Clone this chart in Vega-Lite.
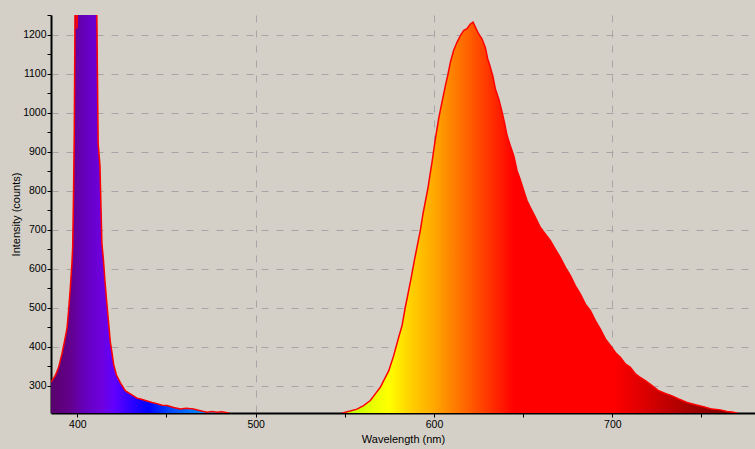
{
  "$schema": "https://vega.github.io/schema/vega-lite/v6.json",
  "width": 704,
  "height": 398,
  "autosize": {"type": "none"},
  "padding": {"left": 51, "top": 15, "right": 0, "bottom": 36},
  "background": "#d4d0c8",
  "config": {
    "view": {"stroke": null, "fill": "#d4d0c8"},
    "font": "Liberation Sans",
    "axis": {
      "domainColor": "#000000",
      "domainWidth": 2,
      "tickColor": "#000000",
      "tickWidth": 1,
      "tickSize": 4,
      "labelColor": "#000000",
      "titleColor": "#000000",
      "labelFont": "Liberation Sans",
      "titleFont": "Liberation Sans",
      "labelFontSize": 10.5,
      "titleFontSize": 11,
      "titleFontWeight": "normal",
      "gridColor": "#a6a6a6",
      "gridDash": [7, 8],
      "gridWidth": 1,
      "zindex": 1
    }
  },
  "data": {
    "values": [
      {"wl": 384, "v": 305}, {"wl": 385.8, "v": 313}, {"wl": 387.7, "v": 326}, {"wl": 389.5, "v": 347},
      {"wl": 391.4, "v": 382}, {"wl": 392.7, "v": 411}, {"wl": 394.2, "v": 446}, {"wl": 395.1, "v": 492},
      {"wl": 396.1, "v": 552}, {"wl": 397.0, "v": 616}, {"wl": 397.4, "v": 655}, {"wl": 397.9, "v": 800},
      {"wl": 398.3, "v": 950}, {"wl": 398.9, "v": 1400}, {"wl": 399.8, "v": 1215}, {"wl": 400.8, "v": 1400},
      {"wl": 405.0, "v": 1400}, {"wl": 410.5, "v": 1400}, {"wl": 411.0, "v": 1230}, {"wl": 411.3, "v": 1090},
      {"wl": 411.7, "v": 920}, {"wl": 412.7, "v": 864}, {"wl": 413.3, "v": 754}, {"wl": 413.8, "v": 664},
      {"wl": 414.6, "v": 626}, {"wl": 415.5, "v": 569}, {"wl": 416.5, "v": 514}, {"wl": 417.6, "v": 459},
      {"wl": 418.5, "v": 413}, {"wl": 419.5, "v": 383}, {"wl": 420.4, "v": 354}, {"wl": 421.9, "v": 328},
      {"wl": 424.1, "v": 308}, {"wl": 426.9, "v": 287}, {"wl": 429.7, "v": 279}, {"wl": 433.5, "v": 268},
      {"wl": 436.0, "v": 265}, {"wl": 439.1, "v": 261}, {"wl": 442.0, "v": 257}, {"wl": 444.7, "v": 254},
      {"wl": 447.5, "v": 250}, {"wl": 450.3, "v": 249}, {"wl": 454.0, "v": 244}, {"wl": 457.8, "v": 240},
      {"wl": 461.0, "v": 242}, {"wl": 465.2, "v": 240}, {"wl": 469.0, "v": 236}, {"wl": 472.7, "v": 232},
      {"wl": 475.5, "v": 234}, {"wl": 478.3, "v": 232}, {"wl": 481.0, "v": 233}, {"wl": 484.0, "v": 231},
      {"wl": 487.0, "v": 226}, {"wl": 495.0, "v": 220}, {"wl": 510.0, "v": 218}, {"wl": 530.0, "v": 219},
      {"wl": 545.0, "v": 224}, {"wl": 548.0, "v": 228}, {"wl": 550.3, "v": 232}, {"wl": 553.0, "v": 235},
      {"wl": 556.8, "v": 240}, {"wl": 560.5, "v": 249}, {"wl": 564.3, "v": 262}, {"wl": 567.1, "v": 279},
      {"wl": 569.9, "v": 296}, {"wl": 571.8, "v": 313}, {"wl": 574.6, "v": 338}, {"wl": 577.4, "v": 377},
      {"wl": 580.2, "v": 424}, {"wl": 582.1, "v": 454}, {"wl": 583.9, "v": 501}, {"wl": 585.8, "v": 544},
      {"wl": 587.1, "v": 574}, {"wl": 589.0, "v": 621}, {"wl": 590.8, "v": 663}, {"wl": 592.3, "v": 697},
      {"wl": 593.9, "v": 742}, {"wl": 596.5, "v": 804}, {"wl": 598.9, "v": 873}, {"wl": 600.8, "v": 933},
      {"wl": 602.6, "v": 984}, {"wl": 604.5, "v": 1027}, {"wl": 606.4, "v": 1069}, {"wl": 607.7, "v": 1095},
      {"wl": 609.2, "v": 1129}, {"wl": 611.0, "v": 1159}, {"wl": 612.9, "v": 1180}, {"wl": 614.8, "v": 1197},
      {"wl": 616.6, "v": 1210}, {"wl": 618.5, "v": 1215}, {"wl": 620.4, "v": 1227}, {"wl": 621.9, "v": 1232},
      {"wl": 623.2, "v": 1219}, {"wl": 625.0, "v": 1202}, {"wl": 626.9, "v": 1189}, {"wl": 628.8, "v": 1167},
      {"wl": 630.1, "v": 1138}, {"wl": 631.6, "v": 1116}, {"wl": 633.1, "v": 1091}, {"wl": 634.4, "v": 1061},
      {"wl": 636.3, "v": 1035}, {"wl": 638.2, "v": 1001}, {"wl": 639.5, "v": 975}, {"wl": 641.0, "v": 941},
      {"wl": 642.8, "v": 915}, {"wl": 644.7, "v": 890}, {"wl": 646.6, "v": 851}, {"wl": 648.4, "v": 828},
      {"wl": 650.3, "v": 800}, {"wl": 652.2, "v": 774}, {"wl": 654.0, "v": 757}, {"wl": 656.8, "v": 732},
      {"wl": 659.6, "v": 706}, {"wl": 662.4, "v": 689}, {"wl": 665.2, "v": 672}, {"wl": 668.0, "v": 650},
      {"wl": 670.8, "v": 629}, {"wl": 673.7, "v": 603}, {"wl": 676.5, "v": 582}, {"wl": 679.3, "v": 556},
      {"wl": 682.1, "v": 535}, {"wl": 684.9, "v": 509}, {"wl": 687.7, "v": 492}, {"wl": 690.5, "v": 467},
      {"wl": 693.3, "v": 445}, {"wl": 696.1, "v": 420}, {"wl": 698.9, "v": 403}, {"wl": 701.7, "v": 385},
      {"wl": 704.5, "v": 373}, {"wl": 707.3, "v": 356}, {"wl": 710.1, "v": 347}, {"wl": 713.0, "v": 330},
      {"wl": 715.7, "v": 321}, {"wl": 718.5, "v": 313}, {"wl": 722.3, "v": 300}, {"wl": 726.0, "v": 287},
      {"wl": 729.7, "v": 280}, {"wl": 733.5, "v": 274}, {"wl": 737.2, "v": 266}, {"wl": 741.9, "v": 257},
      {"wl": 746.6, "v": 251}, {"wl": 751.2, "v": 246}, {"wl": 755.9, "v": 240}, {"wl": 760.6, "v": 238},
      {"wl": 764.3, "v": 234}, {"wl": 768.0, "v": 232}, {"wl": 771.0, "v": 228}, {"wl": 782.0, "v": 220}
    ]
  },
  "encoding": {
    "x": {
      "field": "wl",
      "type": "quantitative",
      "scale": {"domain": [385.25, 780], "nice": false, "zero": false},
      "axis": {
        "title": "Wavelength (nm)",
        "format": "d",
        "values": [400, 450, 500, 550, 600, 650, 700, 750],
        "labelExpr": "datum.value % 100 == 0 ? datum.label : ''",
        "labelPadding": 2,
        "titlePadding": 4,
        "gridOpacity": {"condition": {"test": "datum.value % 100 != 0", "value": 0}, "value": 1}
      }
    },
    "y": {
      "field": "v",
      "type": "quantitative",
      "scale": {"domain": [230, 1250], "nice": false, "zero": false},
      "axis": {
        "title": "Intensity (counts)",
        "format": "d",
        "values": [300, 350, 400, 450, 500, 550, 600, 650, 700, 750, 800, 850, 900, 950, 1000, 1050, 1100, 1150, 1200, 1250],
        "labelExpr": "datum.value % 100 == 0 ? datum.label : ''",
        "labelPadding": 1,
        "titlePadding": 1,
        "gridOpacity": {"condition": {"test": "datum.value % 100 != 0", "value": 0}, "value": 1}
      }
    }
  },
  "layer": [
    {
      "mark": {
        "type": "area",
        "interpolate": "linear",
        "clip": true,
        "color": {
          "gradient": "linear",
          "x1": 0, "x2": 1, "y1": 0, "y2": 0,
          "stops": [
            {"offset": 0, "color": "#560068"},
            {"offset": 0.0276, "color": "#620088"},
            {"offset": 0.0528, "color": "#6600c0"},
            {"offset": 0.0729, "color": "#6e00dc"},
            {"offset": 0.093, "color": "#6000ff"},
            {"offset": 0.1156, "color": "#3000ff"},
            {"offset": 0.1407, "color": "#0000ff"},
            {"offset": 0.1709, "color": "#0048ff"},
            {"offset": 0.2035, "color": "#0078ff"},
            {"offset": 0.2412, "color": "#00b0ff"},
            {"offset": 0.2915, "color": "#00ffa0"},
            {"offset": 0.3668, "color": "#60ff00"},
            {"offset": 0.4221, "color": "#b8ff00"},
            {"offset": 0.4548, "color": "#e8ff00"},
            {"offset": 0.4799, "color": "#ffff00"},
            {"offset": 0.51, "color": "#ffd000"},
            {"offset": 0.5427, "color": "#ffa800"},
            {"offset": 0.5804, "color": "#ff7000"},
            {"offset": 0.6231, "color": "#ff3000"},
            {"offset": 0.6558, "color": "#ff0000"},
            {"offset": 0.794, "color": "#ff0000"},
            {"offset": 0.8442, "color": "#d80000"},
            {"offset": 0.907, "color": "#a00000"},
            {"offset": 0.957, "color": "#800000"},
            {"offset": 1, "color": "#700000"}
          ]
        }
      }
    },
    {
      "mark": {"type": "line", "interpolate": "linear", "clip": true, "color": "#ff0000", "strokeWidth": 1.5}
    }
  ]
}
